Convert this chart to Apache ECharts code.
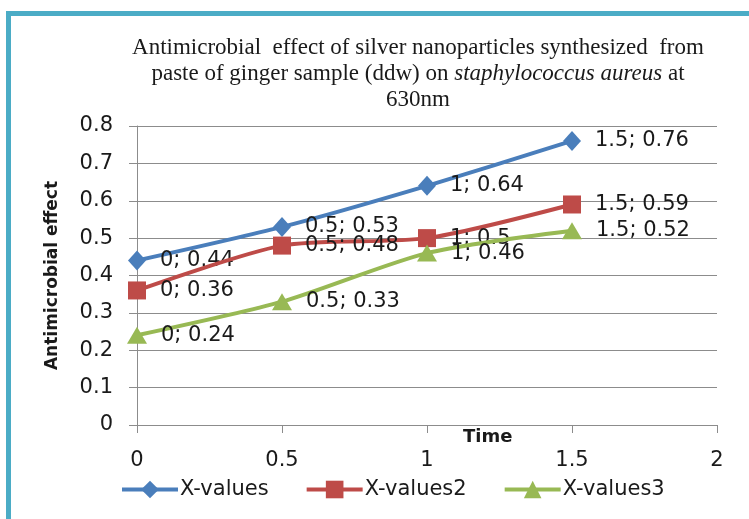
<!DOCTYPE html>
<html>
<head>
<meta charset="utf-8">
<script src="https://cdn.jsdelivr.net/npm/echarts@6/dist/echarts.min.js"></script>
<style>
  html, body { margin: 0; padding: 0; background: #ffffff; }
  #chart { width: 749px; height: 519px; }
</style>
</head>
<body>
<div id="chart"></div>
<script>
// Time points (x) and antimicrobial effect readings for the three series
const timePoints = [0, 0.5, 1, 1.5];
const seriesNames = ['X-values', 'X-values2', 'X-values3'];
const values1 = [0.44, 0.53, 0.64, 0.76];
const values2 = [0.36, 0.48, 0.5, 0.59];
const values3 = [0.24, 0.33, 0.46, 0.52];
const xTicks = [0, 0.5, 1, 1.5, 2];
const yTicks = [0, 0.1, 0.2, 0.3, 0.4, 0.5, 0.6, 0.7, 0.8];

const colors = ['#4A7EBB', '#BE4B48', '#98B954'];
const symbols = ['diamond', 'rect', 'triangle'];
const symbolSizes = [[18, 20], [18, 18], [20, 17]];
const sansFont = '"DejaVu Sans", sans-serif';
const serifFont = '"Liberation Serif", "Times New Roman", serif';

const pairs = (vals) => timePoints.map((t, i) => [t, vals[i]]);

const chart = echarts.init(document.getElementById('chart'), null, { renderer: 'canvas' });

const seriesData = [values1, values2, values3];

chart.setOption({
  animation: false,
  backgroundColor: '#ffffff',
  title: {
    text: 'Antimicrobial  effect of silver nanoparticles synthesized  from\npaste of ginger sample (ddw) on {i|staphylococcus aureus} at\n630nm',
    left: 413,
    top: 30,
    textAlign: 'center',
    textStyle: {
      fontFamily: serifFont,
      fontSize: 23,
      fontWeight: 'normal',
      color: '#1a1a1a',
      lineHeight: 26,
      rich: {
        i: {
          fontFamily: serifFont,
          fontSize: 23,
          fontStyle: 'italic',
          color: '#1a1a1a',
          lineHeight: 26
        }
      }
    }
  },
  grid: { left: 137, right: 32, top: 126, bottom: 94, containLabel: false },
  legend: {
    data: seriesNames,
    left: 115,
    top: 474,
    itemWidth: 56,
    itemHeight: 22,
    itemGap: 36,
    lineStyle: { width: 4 },
    textStyle: { fontFamily: sansFont, fontSize: 21, color: '#1a1a1a', padding: [0, 0, 0, -3] }
  },
  xAxis: {
    type: 'value',
    min: 0,
    max: 2,
    interval: 0.5,
    axisLine: { show: true, lineStyle: { color: '#8c8c8c', width: 1 } },
    axisTick: { show: true, length: 8, lineStyle: { color: '#8c8c8c' } },
    splitLine: { show: false },
    axisLabel: {
      margin: 25,
      fontFamily: sansFont,
      fontSize: 21,
      color: '#1a1a1a',
      formatter: (v) => xTicks.includes(v) ? String(v) : ''
    }
  },
  yAxis: {
    type: 'value',
    min: 0,
    max: 0.8,
    interval: 0.1,
    name: 'Antimicrobial effect',
    nameLocation: 'middle',
    nameGap: 76,
    nameTextStyle: { fontFamily: sansFont, fontSize: 17, fontWeight: 'bold', color: '#1a1a1a' },
    axisLine: { show: true, lineStyle: { color: '#8c8c8c', width: 1 } },
    axisTick: { show: true, length: 8, lineStyle: { color: '#8c8c8c' } },
    splitLine: { show: true, lineStyle: { color: '#8c8c8c', width: 1 } },
    axisLabel: {
      margin: 24,
      fontFamily: sansFont,
      fontSize: 21,
      color: '#1a1a1a',
      formatter: (v) => {
        const r = Math.round(v * 10) / 10;
        return yTicks.includes(r) ? String(r) : '';
      }
    }
  },
  graphic: [
    {
      type: 'rect',
      silent: true,
      shape: { x: 8.5, y: 13.5, width: 900, height: 700 },
      style: { fill: 'none', stroke: '#4BACC6', lineWidth: 5 }
    },
    {
      type: 'text',
      left: 463,
      top: 428,
      style: {
        text: 'Time',
        fontFamily: sansFont,
        fontSize: 18,
        fontWeight: 'bold',
        fill: '#1a1a1a'
      }
    }
  ],
  series: seriesData.map((vals, k) => ({
    name: seriesNames[k],
    type: 'line',
    data: pairs(vals),
    smooth: 0.25,
    symbol: symbols[k],
    symbolSize: symbolSizes[k],
    showAllSymbol: true,
    color: colors[k],
    lineStyle: { width: 4, color: colors[k] },
    itemStyle: { color: colors[k] },
    label: {
      show: true,
      position: 'right',
      distance: 14,
      offset: [0, 2],
      fontFamily: sansFont,
      fontSize: 21,
      color: '#1a1a1a',
      formatter: (p) => p.value[0] + '; ' + p.value[1]
    },
    labelLayout: { hideOverlap: false },
    emphasis: { disabled: true },
    z: 2 + k
  }))
});
</script>
</body>
</html>
